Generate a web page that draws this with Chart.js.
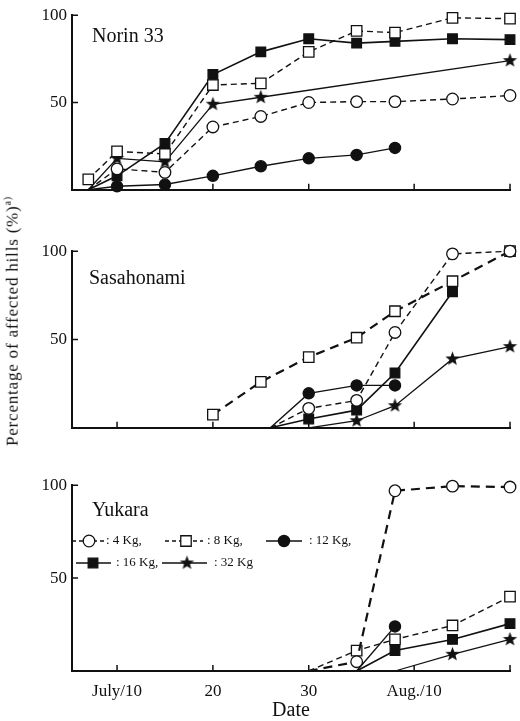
<!DOCTYPE html>
<html>
<head>
<meta charset="utf-8">
<script src="https://cdn.jsdelivr.net/npm/chart.js@4.4.0/dist/chart.umd.min.js"></script>
<style>
  body { margin: 0; background: #fff; }
  #wrap { position: relative; width: 520px; height: 721px; }
  #wrap canvas { position: absolute; left: 0; }
  #ytitle {
    position: absolute; left: 12px; top: 321px;
    transform: translate(-50%, -50%) rotate(-90deg);
    font: 17px "Liberation Serif", "DejaVu Serif", serif;
    letter-spacing: 0.8px; white-space: nowrap; color: #111;
  }
  #ytitle sup { font-size: 10px; }
</style>
</head>
<body>
<div id="wrap">
  <canvas id="norin" width="520" height="205" style="top:0"></canvas>
  <canvas id="sasa" width="520" height="207" style="top:236px"></canvas>
  <canvas id="yuka" width="520" height="251" style="top:470px"></canvas>
  <div id="ytitle">Percentage of affected hills (%)<sup>a)</sup></div>
</div>
<script>
// doses of nitrogen
var doses = ['4 Kg', '8 Kg', '12 Kg', '16 Kg', '32 Kg'];

// day numbers counted from July 1 (Aug 10 = 41)
var xTicks = [10, 20, 30, 41, 51];
var xTickText = ['July/10', '20', '30', 'Aug./10', ''];
var yTicks = [50, 100];

// Norin 33
var norinDates = [7, 10, 15, 20, 25, 30, 35, 39, 45, 51];
var norin4 = [0, 12, 10, 36, 42, 50, 50.5, 50.5, 52, 54];
var norin8 = [6, 22, 20.5, 60, 61, 79, 91, 90, 98.5, 98];
var norin12 = [0, 2, 3, 8, 13.5, 18, 20, 24, null, null];
var norin16 = [0, 8, 26.5, 66, 79, 86.5, 84, 85, 86.5, 86];
var norin32 = [0, 18, 16, 49, 53, null, null, null, null, 74];

// Sasahonami
var sasaDates = [20, 25, 26, 30, 35, 39, 45, 51];
var sasa4 = [null, null, 0, 11, 15.5, 54, 98.5, 100];
var sasa8 = [7.5, 26, null, 40, 51, 66, 83, 100];
var sasa12 = [null, null, 0, 19.5, 24, 24, null, null];
var sasa16 = [null, null, 0, 5, 10, 31, 77, null];
var sasa32 = [null, null, null, 0, 4, 12.5, 39, 46];

// Yukara
var yukaDates = [30, 35, 39, 45, 51];
var yuka4 = [0, 5, 97, 99.5, 99];
var yuka8 = [0, 11, 17, 24.5, 40];
var yuka12 = [null, 0, 24, null, null];
var yuka16 = [null, 0, 11, 17, 25.5];
var yuka32 = [null, null, 0, 9, 17];

var SERIF = '"Liberation Serif", "DejaVu Serif", serif';
var INK = '#111';

// filled five-pointed star used as point marker
function makeStar(r) {
  var c = document.createElement('canvas');
  var s = Math.ceil(r * 2 + 2);
  c.width = c.height = s;
  var g = c.getContext('2d');
  g.fillStyle = INK;
  g.beginPath();
  for (var i = 0; i < 10; i++) {
    var rr = i % 2 ? r * 0.42 : r;
    var a = -Math.PI / 2 + i * Math.PI / 5;
    g.lineTo(s / 2 + rr * Math.cos(a), s / 2 + rr * Math.sin(a));
  }
  g.closePath();
  g.fill();
  return c;
}
var star = makeStar(7.5);

var looks = [
  { style: 'circle', fill: '#fff', radius: 5.8, dash: [6, 4], width: 1.4 },
  { style: 'rect', fill: '#fff', radius: 7.4, dash: [6, 4], width: 1.4 },
  { style: 'circle', fill: INK, radius: 5.6, dash: [], width: 1.4 },
  { style: 'rect', fill: INK, radius: 6.8, dash: [], width: 1.6 },
  { style: star, fill: INK, radius: 7, dash: [], width: 1.3 }
];

// legend rows: line start, line end, marker x, text x, y
var keyRows = [
  [72, 104, 89, 106, 71],
  [165, 203, 186, 207, 71],
  [266, 302, 284, 309, 71],
  [76, 111, 93, 116, 93],
  [162, 207, 187, 214, 93]
];

function drawKey(chart) {
  var ctx = chart.ctx;
  chart.data.datasets.forEach(function (ds, i) {
    var k = keyRows[i], look = looks[i];
    ctx.save();
    ctx.strokeStyle = INK;
    ctx.lineWidth = look.width;
    ctx.setLineDash(look.dash.length ? [4, 3] : []);
    ctx.beginPath();
    ctx.moveTo(k[0], k[4]);
    ctx.lineTo(k[1], k[4]);
    ctx.stroke();
    ctx.setLineDash([]);
    ctx.fillStyle = look.fill;
    ctx.lineWidth = 1.3;
    Chart.helpers.drawPoint(ctx, { pointStyle: look.style, radius: look.radius, borderWidth: 1.3, rotation: 0 }, k[2], k[4]);
    ctx.fillStyle = INK;
    ctx.font = '13px ' + SERIF;
    ctx.textBaseline = 'middle';
    ctx.fillText(': ' + ds.label + (i < doses.length - 1 ? ',' : ''), k[3], k[4]);
    ctx.restore();
  });
}

// inward tick marks, variety name and optional key
var decor = {
  id: 'decor',
  afterDatasetsDraw: function (chart, args, opts) {
    var ctx = chart.ctx, a = chart.chartArea, x = chart.scales.x, y = chart.scales.y;
    ctx.save();
    ctx.strokeStyle = INK;
    ctx.lineWidth = 1.5;
    ctx.beginPath();
    xTicks.forEach(function (v) {
      var px = x.getPixelForValue(v);
      ctx.moveTo(px, a.bottom);
      ctx.lineTo(px, a.bottom - 6);
    });
    yTicks.forEach(function (v) {
      var py = y.getPixelForValue(v);
      ctx.moveTo(a.left, py);
      ctx.lineTo(a.left + 6, py);
    });
    ctx.stroke();
    ctx.fillStyle = INK;
    ctx.font = '20px ' + SERIF;
    ctx.textBaseline = 'middle';
    ctx.fillText(opts.name, a.left + opts.dx, a.top + opts.dy);
    ctx.restore();
    if (opts.key) drawKey(chart);
  }
};

// heavy: index of a dashed series drawn with a bolder pen in that panel
function panel(id, dates, series, name, dx, dy, bottom, padTop, padBottom, heavy) {
  var datasets = series.map(function (vals, i) {
    var look = looks[i];
    var bold = i === heavy;
    return {
      label: doses[i],
      data: dates.map(function (d, k) { return { x: d, y: vals[k] }; })
                 .filter(function (p) { return p.y !== null; }),
      borderColor: INK,
      borderWidth: bold ? 2.2 : look.width,
      borderDash: bold ? [9, 6] : look.dash,
      pointStyle: look.style,
      pointBackgroundColor: look.fill,
      pointBorderColor: INK,
      pointBorderWidth: 1.3,
      pointRadius: function (c) { return c.raw && c.raw.y === 0 ? 0 : look.radius; },
      tension: 0,
      clip: false
    };
  });

  return new Chart(document.getElementById(id), {
    type: 'line',
    data: { datasets: datasets },
    plugins: [decor],
    options: {
      responsive: false,
      animation: false,
      events: [],
      layout: { padding: { top: padTop, right: 10, bottom: padBottom, left: 0 } },
      plugins: {
        legend: { display: false },
        tooltip: { enabled: false },
        decor: { name: name, dx: dx, dy: dy, key: bottom }
      },
      scales: {
        x: {
          type: 'linear',
          min: 5.3,
          max: 51,
          grid: { display: false, drawTicks: false },
          border: { color: INK, width: 2 },
          afterBuildTicks: function (s) { s.ticks = xTicks.map(function (v) { return { value: v }; }); },
          ticks: {
            display: bottom,
            autoSkip: false,
            maxRotation: 0,
            padding: 10,
            color: INK,
            font: { family: SERIF, size: 17 },
            callback: function (v, i) { return xTickText[i]; }
          },
          title: {
            display: bottom,
            text: 'Date',
            color: INK,
            font: { family: SERIF, size: 20, lineHeight: 1 },
            padding: 0
          },
          afterFit: function (s) { s.height = bottom ? 50 : 0; }
        },
        y: {
          min: 0,
          max: 100,
          grid: { display: false, drawTicks: false },
          border: { color: INK, width: 2 },
          afterBuildTicks: function (s) { s.ticks = yTicks.map(function (v) { return { value: v }; }); },
          ticks: { padding: 5, color: INK, font: { family: SERIF, size: 17 } },
          afterFit: function (s) { s.width = 72; }
        }
      }
    }
  });
}

panel('norin', norinDates, [norin4, norin8, norin12, norin16, norin32], 'Norin 33', 20, 22, false, 13, 7, -1);
panel('sasa', sasaDates, [sasa4, sasa8, sasa12, sasa16, sasa32], 'Sasahonami', 17, 28, false, 14, 7, 1);
panel('yuka', yukaDates, [yuka4, yuka8, yuka12, yuka16, yuka32], 'Yukara', 20, 26, true, 14, 0, 0);
</script>
</body>
</html>
